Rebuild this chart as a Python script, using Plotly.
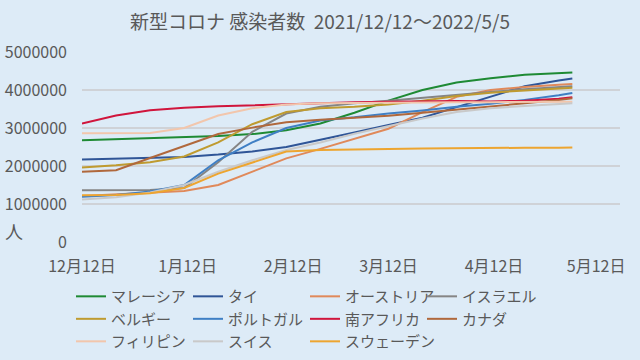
import plotly.graph_objects as go

dates = ["2021-12-12", "2021-12-22", "2022-01-01", "2022-01-11", "2022-01-21",
         "2022-01-31", "2022-02-10", "2022-02-20", "2022-03-02", "2022-03-12",
         "2022-03-22", "2022-04-01", "2022-04-11", "2022-04-21", "2022-05-01",
         "2022-05-05"]

malaysia = [2680000, 2710000, 2740000, 2760000, 2790000, 2840000, 2940000, 3120000,
            3400000, 3720000, 4000000, 4200000, 4310000, 4400000, 4450000, 4460000]
thailand = [2170000, 2190000, 2210000, 2240000, 2300000, 2380000, 2500000, 2680000,
            2880000, 3080000, 3270000, 3550000, 3820000, 4100000, 4250000, 4300000]
austria = [1210000, 1250000, 1290000, 1340000, 1500000, 1840000, 2200000, 2450000,
           2720000, 2980000, 3420000, 3820000, 4000000, 4080000, 4140000, 4160000]
israel = [1360000, 1360000, 1370000, 1420000, 2100000, 2900000, 3380000, 3560000,
          3650000, 3720000, 3800000, 3880000, 3950000, 4020000, 4080000, 4100000]
belgium = [1960000, 2020000, 2100000, 2250000, 2620000, 3100000, 3420000, 3520000,
           3560000, 3620000, 3720000, 3840000, 3930000, 3990000, 4040000, 4060000]
portugal = [1190000, 1240000, 1330000, 1500000, 2150000, 2620000, 3000000, 3200000,
            3280000, 3380000, 3460000, 3560000, 3640000, 3740000, 3860000, 3920000]
south_africa = [3120000, 3330000, 3470000, 3530000, 3570000, 3600000, 3630000, 3660000,
                3680000, 3690000, 3700000, 3710000, 3700000, 3720000, 3770000, 3810000]
canada = [1850000, 1890000, 2210000, 2530000, 2840000, 3010000, 3150000, 3220000,
          3270000, 3320000, 3400000, 3480000, 3560000, 3650000, 3740000, 3780000]
philippines = [2860000, 2860000, 2870000, 3000000, 3330000, 3520000, 3620000, 3650000,
               3660000, 3670000, 3670000, 3680000, 3680000, 3680000, 3690000, 3690000]
switzerland = [1120000, 1180000, 1300000, 1500000, 1850000, 2150000, 2420000, 2620000,
               2850000, 3050000, 3250000, 3420000, 3520000, 3580000, 3630000, 3650000]
sweden = [1230000, 1240000, 1280000, 1420000, 1800000, 2100000, 2380000, 2420000,
          2440000, 2450000, 2460000, 2470000, 2470000, 2480000, 2480000, 2490000]

series_names = ["マレーシア", "タイ", "オーストリア", "イスラエル", "ベルギー", "ポルトガル",
                "南アフリカ", "カナダ", "フィリピン", "スイス", "スウェーデン"]
series_values = [malaysia, thailand, austria, israel, belgium, portugal,
                 south_africa, canada, philippines, switzerland, sweden]
colors = ["#1E8A34", "#2F5597", "#E0895A", "#858585", "#BF9B30", "#3F7FC4",
          "#D0153C", "#B0683C", "#F2C6AC", "#C9C9C9", "#EDA530"]

x_tickvals = ["2021-12-12", "2022-01-12", "2022-02-12", "2022-03-12", "2022-04-12", "2022-05-12"]
x_ticktext = ["12月12日", "1月12日", "2月12日", "3月12日", "4月12日", "5月12日"]
y_tickvals = [0, 1000000, 2000000, 3000000, 4000000, 5000000]
y_ticktext = ["0", "1000000", "2000000", "3000000", "4000000", "5000000"]

FONT = "Noto Sans CJK JP"
GREY = "#595959"
BG = "#DDEBF7"

fig = go.Figure()
for name, vals, col in zip(series_names, series_values, colors):
    fig.add_trace(go.Scatter(x=dates, y=vals, mode="lines", name=name,
                             line=dict(color=col, width=2)))

fig.update_layout(
    width=640, height=360,
    margin=dict(l=82, r=20, t=52, b=118),
    paper_bgcolor=BG, plot_bgcolor=BG,
    font=dict(family=FONT, color=GREY, size=16),
    title=dict(text="新型コロナ 感染者数\u00a0\u00a02021/12/12～2022/5/5", x=0.5, xanchor="center",
               y=0.939, yanchor="middle", font=dict(size=19, color=GREY, family=FONT)),
    xaxis=dict(type="date", range=["2021-12-12", "2022-05-19"], automargin=False,
               tickmode="array", tickvals=x_tickvals, ticktext=x_ticktext,
               showgrid=False, zeroline=False, showline=False,
               ticks="", ticklabelstandoff=13,
               tickfont=dict(size=16, color=GREY, family=FONT)),
    yaxis=dict(range=[0, 5000000], tickmode="array", tickvals=y_tickvals, ticktext=y_ticktext,
               automargin=False,
               showgrid=True, gridcolor="#CFD2D7", gridwidth=2, zeroline=False,
               showline=False, ticks="", ticklabelstandoff=14,
               tickfont=dict(size=16, color=GREY, family=FONT)),
    legend=dict(orientation="h", x=0.4145, xanchor="center",
                yref="container", y=0.222, yanchor="top",
                entrywidth=72, entrywidthmode="pixels", itemwidth=30,
                font=dict(size=15, color=GREY, family=FONT), bgcolor="rgba(0,0,0,0)"),
    showlegend=True,
)

fig.add_annotation(text="人", xref="paper", yref="paper", x=-0.126, y=0.06,
                   xanchor="center", yanchor="middle", showarrow=False,
                   font=dict(size=18, color=GREY, family=FONT))

fig.write_html("out.html",
               config={"displayModeBar": False},
               post_script="document.body.style.margin='0px';"
                           "document.body.style.padding='0px';"
                           "document.body.style.background='#DDEBF7';"
                           "document.body.style.overflow='hidden';")
